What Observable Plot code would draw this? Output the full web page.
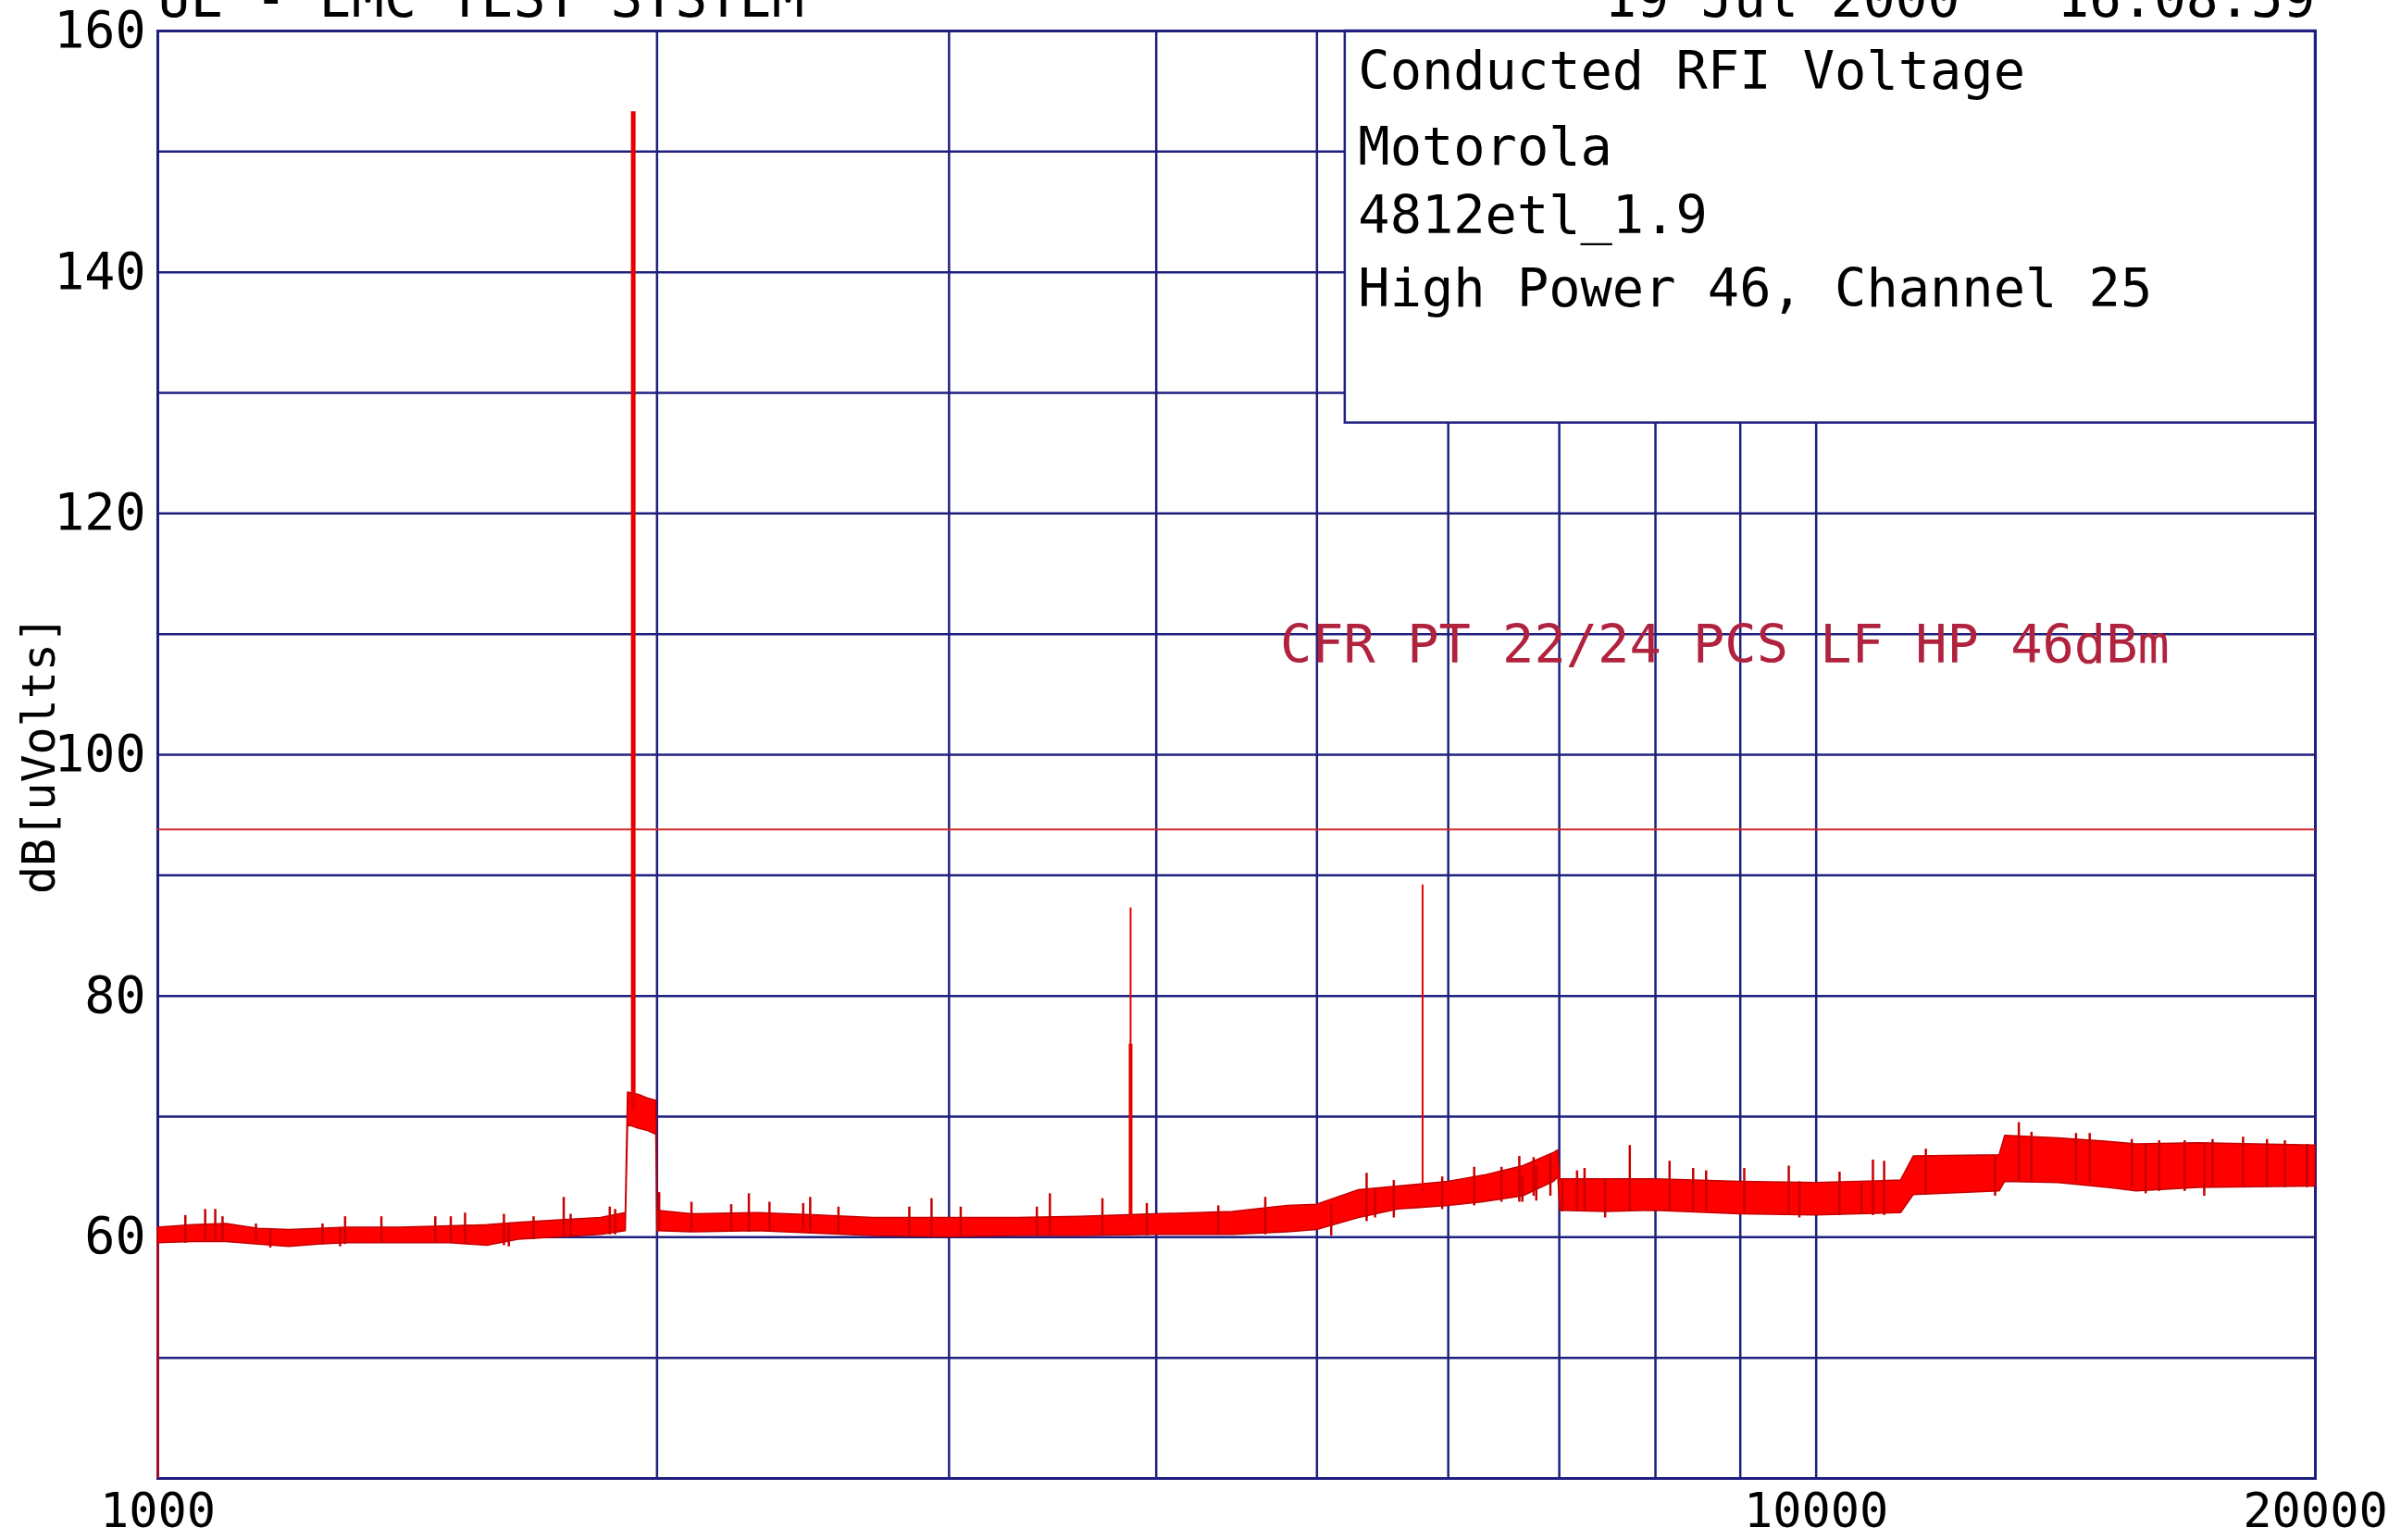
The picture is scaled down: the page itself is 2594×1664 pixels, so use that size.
<!DOCTYPE html>
<html><head><meta charset="utf-8">
<script src="https://cdn.jsdelivr.net/npm/d3@7"></script>
<script src="https://cdn.jsdelivr.net/npm/@observablehq/plot@0.6"></script>
<style>
html,body{margin:0;padding:0;background:#fff;}
#chart{position:relative;width:2594px;height:1664px;overflow:hidden;background:#fff;}
</style></head><body><div id="chart"></div>
<script>
// ---- data ----
// noise floor envelope (frequency Hz, lower / upper edge of the trace band, dB[uV])
const envFreq = [1000,1050,1100,1150,1200,1250,1300,1400,1500,1580,1650,1750,1850,1915,1921,1950,1975,1998,2001,2100,2300,2500,2700,3000,3300,3600,4000,4450,4800,5000,5300,5600,6000,6300,6660,6950,6990,7010,7470,8000,9000,10000,11250,11450,12900,13000,14000,15000,15600,17000,20000];
const envLow  = [59.5,59.6,59.6,59.4,59.2,59.4,59.5,59.5,59.5,59.3,59.8,60.0,60.2,60.5,69.3,69.0,68.8,68.5,60.5,60.4,60.5,60.3,60.1,60.0,60.1,60.1,60.2,60.2,60.4,60.6,61.6,62.3,62.6,62.9,63.4,64.6,65.0,62.2,62.1,62.2,61.9,61.8,62.0,63.5,63.8,64.6,64.5,64.1,63.8,64.1,64.2];
const envHigh = [60.8,61.0,61.1,60.7,60.6,60.7,60.8,60.8,60.9,61.0,61.2,61.4,61.6,62.0,72.0,71.8,71.5,71.3,62.2,61.9,62.0,61.8,61.6,61.6,61.6,61.7,61.9,62.1,62.6,62.7,63.9,64.2,64.6,65.1,65.9,67.0,67.2,64.8,64.8,64.8,64.6,64.5,64.7,66.7,66.8,68.4,68.2,67.9,67.7,67.8,67.6];
// noise spikes sticking out above the band
const spikeFreq = [1039,1068,1083,1094,1146,1257,1297,1364,1470,1502,1532,1617,1685,1757,1774,1873,1887,2006,2098,2217,2272,2338,2450,2474,2573,2839,2928,3049,3389,3451,3712,3948,4360,4654,5357,5563,5950,6220,6460,6622,6755,6914,7175,7250,7720,8158,8430,8583,9050,9627,10330,10820,10990,11645,13250,13485,14345,14620,15500,16100,16680,17340,18090,18700,19170,19770];
const spikeTop  = [61.8,62.3,62.3,61.7,61.1,61.1,61.7,61.7,61.7,61.7,62.0,61.9,61.7,63.3,61.9,62.5,62.3,63.7,62.9,62.7,63.6,62.9,62.8,63.3,62.5,62.5,63.2,62.5,62.5,63.6,63.2,62.8,62.6,63.3,65.3,64.7,65.0,65.8,65.8,66.7,66.6,66.9,65.5,65.7,67.6,66.3,65.7,65.5,65.7,65.9,65.4,66.4,66.3,67.3,69.5,68.7,68.6,68.6,68.1,68.0,68.0,68.1,68.3,68.1,68.0,67.7];
// noise dips below the band
const dipFreq = [1169,1288,1628,5100,5357,5420,6650,6780,7030,7460,9770,10650,12820,15800,17140];
const dipLow  = [59.1,59.2,59.2,60.1,61.3,61.6,62.9,63.0,62.1,61.6,61.6,61.9,63.4,63.6,63.4];
// carrier / discrete emissions
const carrierFreq = [1935, 3860, 3860, 5790];
const carrierBase = [70.5, 61.5, 61.5, 63.5];
const carrierTop  = [153.3, 87.3, 76.0, 89.2];
const carrierWidth = [5, 2, 4, 2];
// start of sweep (trace rises from the bottom at 1000 Hz)
const startFreq = [1000], startLow = [40], startHigh = [60];
// limit line
const limitLevel = [93.8];
const limitLabel = ["CFR PT 22/24 PCS LF HP 46dBm"];
// grid and ticks
const gridFreq = [1000,2000,3000,4000,5000,6000,7000,8000,9000,10000,20000];
const gridLevel = [40,50,60,70,80,90,100,110,120,130,140,150,160];
const xTicks = [1000, 10000, 20000];
const yTicks = [60, 80, 100, 120, 140, 160];
// annotation texts
const infoLines = ["Conducted RFI Voltage", "Motorola", "4812etl_1.9", "High Power 46, Channel 25"];
const infoLevels = [156.6, 150.3, 144.6, 138.6];
const headerLeft = "UL - EMC TEST SYSTEM";
const headerRight = "19 Jul 2000   16:08:59";
const yLabel = "dB[uVolts]";

// ---- build ----
const env = envFreq.map((f, i) => ({f, lo: envLow[i], hi: envHigh[i]}));
function idxAt(f) { return Math.max(0, d3.bisectRight(envFreq, f) - 1); }
const spikes = spikeFreq.map((f, i) => ({f, base: envLow[idxAt(f)], top: spikeTop[i]}));
const dips = dipFreq.map((f, i) => ({f, low: dipLow[i], top: envHigh[idxAt(f)]}));
const carriers = carrierFreq.map((f, i) => ({f, base: carrierBase[i], top: carrierTop[i], w: carrierWidth[i]}));
const starts = startFreq.map((f, i) => ({f, lo: startLow[i], hi: startHigh[i]}));
const info = infoLines.map((t, i) => ({t, y: infoLevels[i]}));

const navy = "#1f1f80";
const font = "'DejaVu Sans Mono', monospace";

const plot = Plot.plot({
  width: 2594, height: 1664,
  marginLeft: 170, marginRight: 93, marginTop: 33, marginBottom: 67,
  style: {fontFamily: font, fontSize: "55px", background: "white", color: "black", overflow: "visible"},
  x: {type: "log", domain: [1000, 20000], axis: null},
  y: {domain: [40, 160], axis: null},
  marks: [
    Plot.ruleX(gridFreq, {stroke: navy, strokeWidth: 2.5}),
    Plot.ruleY(gridLevel, {stroke: navy, strokeWidth: 2.5}),
    // info box
    Plot.rect([0], {x1: () => 5200, x2: () => 20000, y1: () => 127.5, y2: () => 160, fill: "white", stroke: navy, strokeWidth: 2.5}),
    Plot.text(info, {x: () => 5200, y: "y", text: "t", textAnchor: "start", lineAnchor: "middle", dx: 14, fontSize: 57, fill: "black"}),
    Plot.frame({stroke: navy, strokeWidth: 3}),
    // limit line + label
    Plot.ruleY(limitLevel, {stroke: "#d42a2a", strokeWidth: 2}),
    Plot.text(limitLabel, {x: () => 4750, y: () => 109, textAnchor: "start", lineAnchor: "middle", fontSize: 57, fill: "#b0223e"}),
    // trace
    Plot.ruleX(starts, {x: "f", y1: "lo", y2: "hi", stroke: "#e00000", strokeWidth: 2}),
    Plot.areaY(env, {x: "f", y1: "lo", y2: "hi", fill: "#ff0000", stroke: "#c40000", strokeWidth: 1.5}),
    Plot.ruleX(spikes, {x: "f", y1: "base", y2: "top", stroke: "#c80000", strokeWidth: 2.5}),
    Plot.ruleX(dips, {x: "f", y1: "low", y2: "top", stroke: "#c80000", strokeWidth: 2.5}),
    Plot.ruleX(carriers, {x: "f", y1: "base", y2: "top", stroke: "#e80000", strokeWidth: "w"}),
    // axes
    Plot.axisX({ticks: xTicks, tickSize: 0, tickPadding: 16, tickFormat: d => String(d), fontSize: 52, label: null}),
    Plot.axisY({ticks: yTicks, tickSize: 0, tickPadding: 13, tickFormat: d => String(d), fontSize: 55, label: null}),
    Plot.text([yLabel], {frameAnchor: "left", dx: -128, rotate: -90, textAnchor: "middle", lineAnchor: "middle", fontSize: 50, fill: "black"}),
    // header (cut off at top like the original printout)
    Plot.text([headerLeft], {frameAnchor: "top-left", textAnchor: "start", lineAnchor: "middle", dy: -34, fontSize: 58, fill: "black"}),
    Plot.text([headerRight], {frameAnchor: "top-right", textAnchor: "end", lineAnchor: "middle", dy: -34, fontSize: 58, fill: "black"})
  ]
});
document.getElementById("chart").appendChild(plot);
</script>
</body></html>
